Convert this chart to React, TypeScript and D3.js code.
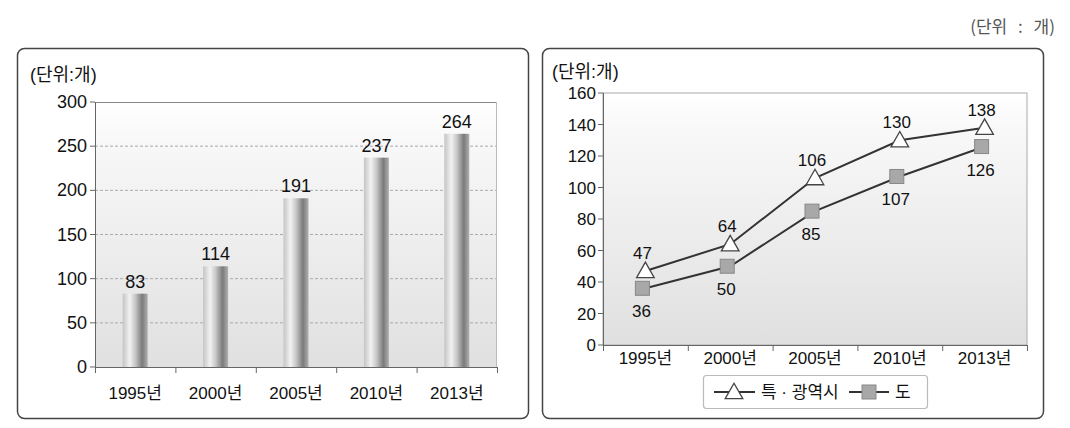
import React from "react";
import * as d3 from "d3";

const years = ["1995년", "2000년", "2005년", "2010년", "2013년"];
const totalCounts = [83, 114, 191, 237, 264];
const metroCounts = [47, 64, 106, 130, 138];
const provinceCounts = [36, 50, 85, 107, 126];
const leftTicks = [0, 50, 100, 150, 200, 250, 300];
const rightTicks = [0, 20, 40, 60, 80, 100, 120, 140, 160];
const seriesNames = ["특 · 광역시", "도"];

const FONT = "'Liberation Sans', Arial, 'Noto Sans CJK KR', sans-serif";

export default function App() {
  // Left chart geometry
  const L = { x0: 95, x1: 497, top: 102, bottom: 367 };
  const yL = d3.scaleLinear().domain([0, 300]).range([L.bottom, L.top]);
  const xL = d3.scaleBand<string>().domain(years).range([L.x0, L.x1]);
  const barW = 25;

  // Right chart geometry
  const R = { x0: 603, x1: 1027, top: 93, bottom: 345 };
  const yR = d3.scaleLinear().domain([0, 160]).range([R.bottom, R.top]);
  const xR = d3.scaleBand<string>().domain(years).range([R.x0, R.x1]);
  const cx = (d: string) => (xR(d) as number) + xR.bandwidth() / 2;
  const line = d3
    .line<number>()
    .x((_, i) => cx(years[i]))
    .y((v) => yR(v));

  const tri = (x: number, y: number, s: number) =>
    `M${x},${y - s * 0.55} L${x + s * 0.55},${y + s * 0.42} L${x - s * 0.55},${y + s * 0.42} Z`;

  return (
    <svg width={1070} height={428} style={{ position: "absolute", left: 0, top: 0 }} fontFamily={FONT}>
      <defs>
        <linearGradient id="bgGrad" x1="0" y1="0" x2="0" y2="1">
          <stop offset="0" stopColor="#ffffff" />
          <stop offset="0.15" stopColor="#f8f8f8" />
          <stop offset="1" stopColor="#e0e0e0" />
        </linearGradient>
        <linearGradient id="barGrad" x1="0" y1="0" x2="1" y2="0">
          <stop offset="0" stopColor="#c4c4c4" />
          <stop offset="0.28" stopColor="#f2f2f2" />
          <stop offset="0.5" stopColor="#c8c8c8" />
          <stop offset="0.78" stopColor="#7a7a7a" />
          <stop offset="1" stopColor="#b0b0b0" />
        </linearGradient>
      </defs>
      <rect width={1070} height={428} fill="#fff" />

      {/* top-right unit */}
      <text
        x={1055}
        y={33}
        textAnchor="end"
        fontSize={17}
        fill="#555"
        wordSpacing={7}
        fontFamily="'Noto Sans CJK KR', sans-serif"
      >
        (단위 : 개)
      </text>

      {/* ===== Left panel ===== */}
      <rect x={17.5} y={48.5} width={511} height={370} rx={7} fill="#fff" stroke="#444" strokeWidth={1.5} />
      <text x={30} y={81} fontSize={18} fill="#111">(단위:개)</text>
      <rect x={L.x0} y={L.top} width={L.x1 - L.x0} height={L.bottom - L.top} fill="url(#bgGrad)" />
      {leftTicks.slice(1, -1).map((t) => (
        <line key={t} x1={L.x0} x2={L.x1} y1={yL(t)} y2={yL(t)} stroke="#aaa" strokeDasharray="3,2" strokeWidth={1} />
      ))}
      <line x1={L.x0} x2={L.x1} y1={L.top + 0.5} y2={L.top + 0.5} stroke="#888" />
      <line x1={L.x1 - 0.5} x2={L.x1 - 0.5} y1={L.top} y2={L.bottom} stroke="#bbb" />
      {years.map((y, i) => {
        const x = (xL(y) as number) + xL.bandwidth() / 2;
        const top = yL(totalCounts[i]);
        return (
          <g key={y}>
            <rect x={x - barW / 2} y={top} width={barW} height={L.bottom - top} fill="url(#barGrad)" />
            <text x={x} y={top - 6} textAnchor="middle" fontSize={18} fill="#111">
              {totalCounts[i]}
            </text>
            <text x={x} y={399} textAnchor="middle" fontSize={17} fill="#111">
              {y}
            </text>
          </g>
        );
      })}
      <line x1={L.x0 + 0.5} x2={L.x0 + 0.5} y1={L.top} y2={L.bottom} stroke="#666" />
      <line x1={L.x0} x2={L.x1} y1={L.bottom + 0.5} y2={L.bottom + 0.5} stroke="#666" />
      {leftTicks.map((t) => (
        <g key={t}>
          <line x1={L.x0 - 5} x2={L.x0} y1={yL(t)} y2={yL(t)} stroke="#666" />
          <text x={L.x0 - 8} y={yL(t) + 6} textAnchor="end" fontSize={18} fill="#111">
            {t}
          </text>
        </g>
      ))}
      {[...years.map((y) => xL(y) as number), L.x1].map((x, i) => (
        <line key={i} x1={x + 0.5} x2={x + 0.5} y1={L.bottom} y2={L.bottom + 6} stroke="#666" />
      ))}

      {/* ===== Right panel ===== */}
      <rect x={542.5} y={48.5} width={501} height={370} rx={7} fill="#fff" stroke="#444" strokeWidth={1.5} />
      <text x={552} y={78} fontSize={18} fill="#111">(단위:개)</text>
      <rect x={R.x0} y={R.top} width={R.x1 - R.x0} height={R.bottom - R.top} fill="url(#bgGrad)" stroke="#aaa" />
      <line x1={R.x0 + 0.5} x2={R.x0 + 0.5} y1={R.top} y2={R.bottom} stroke="#666" />
      <line x1={R.x0} x2={R.x1} y1={R.bottom + 0.5} y2={R.bottom + 0.5} stroke="#666" />
      {rightTicks.map((t) => (
        <g key={t}>
          <line x1={R.x0 - 5} x2={R.x0} y1={yR(t)} y2={yR(t)} stroke="#666" />
          <text x={R.x0 - 7} y={yR(t) + 6} textAnchor="end" fontSize={17} fill="#111">
            {t}
          </text>
        </g>
      ))}
      {[...years.map((y) => xR(y) as number), R.x1].map((x, i) => (
        <line key={i} x1={x + 0.5} x2={x + 0.5} y1={R.bottom} y2={R.bottom + 6} stroke="#666" />
      ))}
      {years.map((y) => (
        <text key={y} x={cx(y)} y={364} textAnchor="middle" fontSize={17} fill="#111">
          {y}
        </text>
      ))}
      <path d={line(metroCounts) as string} fill="none" stroke="#333" strokeWidth={2} />
      <path d={line(provinceCounts) as string} fill="none" stroke="#333" strokeWidth={2} />
      {years.map((y, i) => (
        <g key={y}>
          <path d={tri(cx(y), yR(metroCounts[i]), 16)} fill="#fff" stroke="#444" strokeWidth={1.3} />
          <text x={cx(y) - 3} y={yR(metroCounts[i]) - 12} textAnchor="middle" fontSize={17} fill="#111">
            {metroCounts[i]}
          </text>
          <rect
            x={cx(y) - 7 - 3}
            y={yR(provinceCounts[i]) - 7}
            width={14}
            height={14}
            fill="#a8a8a8"
            stroke="#888"
          />
          <text x={cx(y) - 4} y={yR(provinceCounts[i]) + 29} textAnchor="middle" fontSize={17} fill="#111">
            {provinceCounts[i]}
          </text>
        </g>
      ))}

      {/* legend */}
      <rect x={703.5} y={375.5} width={224} height={33} rx={3} fill="#fff" stroke="#bbb" strokeWidth={1.2} />
      <line x1={714} x2={755} y1={392} y2={392} stroke="#333" strokeWidth={2} />
      <path d={tri(734, 392, 16)} fill="#fff" stroke="#444" strokeWidth={1.3} />
      <text x={761} y={398} fontSize={17} fill="#111">{seriesNames[0]}</text>
      <line x1={849} x2={889} y1={392} y2={392} stroke="#333" strokeWidth={2} />
      <rect x={862} y={385} width={14} height={14} fill="#a8a8a8" stroke="#888" />
      <text x={895} y={398} fontSize={17} fill="#111">{seriesNames[1]}</text>
    </svg>
  );
}
